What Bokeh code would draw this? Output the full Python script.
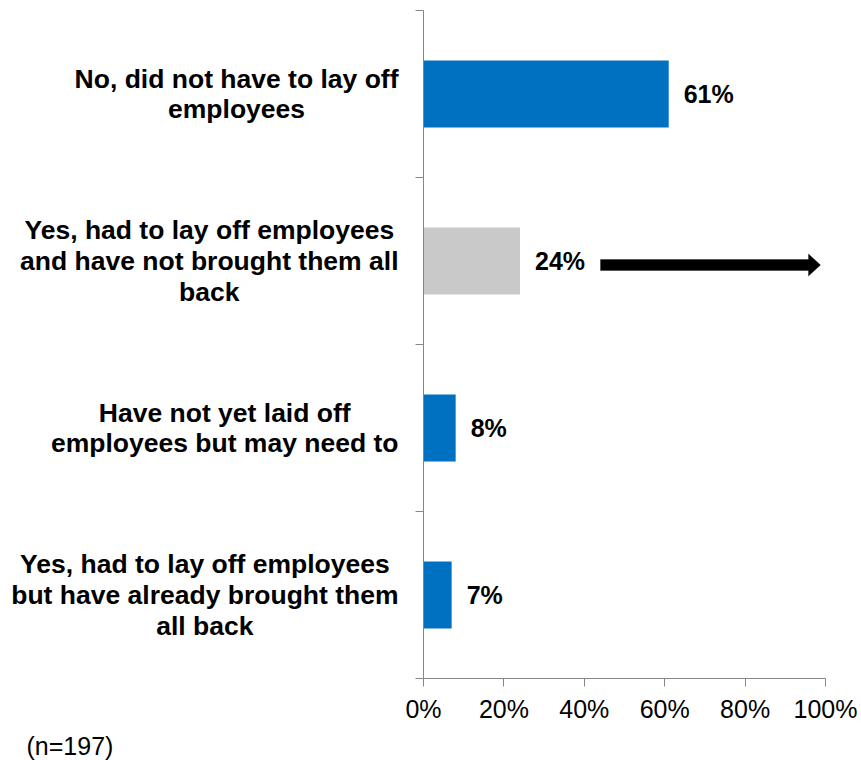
from bokeh.plotting import figure
from bokeh.layouts import row
from bokeh.models import Range1d, FixedTicker, PolyAnnotation, PrintfTickFormatter
from bokeh.core.properties import value
from bokeh.embed import file_html
from bokeh.resources import INLINE

# ---- data ----
categories = [
    "No, did not have to lay off\nemployees",
    "Yes, had to lay off employees\nand have not brought them all\nback",
    "Have not yet laid off\nemployees but may need to",
    "Yes, had to lay off employees\nbut have already brought them\nall back",
]
percentages = [61, 24, 8, 7]
highlight_index = 1
x_ticks = [0, 20, 40, 60, 80, 100]
sample_note = "(n=197)"

# ---- styles ----
BLUE = "#0070C0"
GREY = "#C9C9C9"
AXIS = "#868686"
FONT = "Liberation Sans"

W, H = 861, 760
FL, FR, FT, FB = 423, 825, 10, 678  # chart frame edges in page px
LW = 400                              # width of the label panel

n = len(categories)
ys = [n - 0.5 - i for i in range(n)]
colors = [GREY if i == highlight_index else BLUE for i in range(n)]
labels = [f"{v}%" for v in percentages]
px_x = (FR - FL) / 100.0
px_y = (FB - FT) / n

# ---------- chart ----------
p = figure(width=W - LW, height=H, x_range=Range1d(0, 100), y_range=Range1d(0, n),
           output_backend="svg", toolbar_location=None,
           min_border_left=FL - LW, min_border_right=W - FR,
           min_border_top=FT, min_border_bottom=H - FB)
p.frame_align = False
p.outline_line_color = None
p.grid.visible = False
p.background_fill_color = "white"
p.border_fill_color = "white"

p.hbar(y=ys, left=0, right=percentages, height=0.4, fill_color=colors, line_color=None)
p.text(x=percentages, y=ys, text=labels, x_offset=15, text_align="left", text_baseline="middle",
       text_font=value(FONT), text_font_size="25px", text_font_style="bold", text_color="black")

xa = p.xaxis[0]
xa.ticker = FixedTicker(ticks=x_ticks)
xa.formatter = PrintfTickFormatter(format="%d%%")
xa.axis_line_color = AXIS
xa.major_tick_line_color = AXIS
xa.major_tick_out = 8
xa.major_tick_in = 0
xa.minor_tick_line_color = None
xa.major_label_text_font = FONT
xa.major_label_text_font_size = "25px"
xa.major_label_text_color = "black"
xa.major_label_standoff = 8

ya = p.yaxis[0]
y_bounds = list(range(n + 1))
ya.ticker = FixedTicker(ticks=y_bounds)
ya.major_label_overrides = {t: "" for t in y_bounds}
ya.major_label_standoff = 0
ya.axis_line_color = AXIS
ya.major_tick_line_color = AXIS
ya.major_tick_out = 8
ya.major_tick_in = 0
ya.minor_tick_line_color = None

# arrow next to highlighted bar
ay = ys[highlight_index] - 4 / px_y
x0 = (600 - FL) / px_x
xb = (808 - FL) / px_x
xt = (820 - FL) / px_x
sh = 5.5 / px_y
hh = 11 / px_y
p.add_layout(PolyAnnotation(xs=[x0, xb, xb, xt, xb, xb, x0],
                            ys=[ay + sh, ay + sh, ay + hh, ay, ay - hh, ay - sh, ay - sh],
                            fill_color="black", fill_alpha=1, line_color="black", line_width=1))

# ---------- category label panel (same scales as the chart) ----------
lp = figure(width=LW, height=H,
            x_range=Range1d(-FL / px_x, (LW - FL) / px_x),
            y_range=Range1d(-(H - FB) / px_y, n + FT / px_y),
            output_backend="svg", toolbar_location=None,
            x_axis_location=None, y_axis_location=None, min_border=0)
lp.frame_align = False
lp.outline_line_color = None
lp.grid.visible = False
lp.background_fill_color = "white"
lp.border_fill_color = "white"

lp.text(x=[0] * n, y=ys, text=categories, x_offset=-25, anchor="center_right",
        text_align="center", text_baseline="middle",
        text_font=value(FONT), text_font_size="26.5px", text_font_style="bold",
        text_color="black", text_line_height=1.03)

lp.text(x=[(26 - FL) / px_x], y=[-(745 - FB) / px_y], text=[sample_note],
        text_align="left", text_baseline="middle",
        text_font=value(FONT), text_font_size="25px", text_color="black")

open("out.html", "w").write(file_html(row(lp, p), INLINE))
